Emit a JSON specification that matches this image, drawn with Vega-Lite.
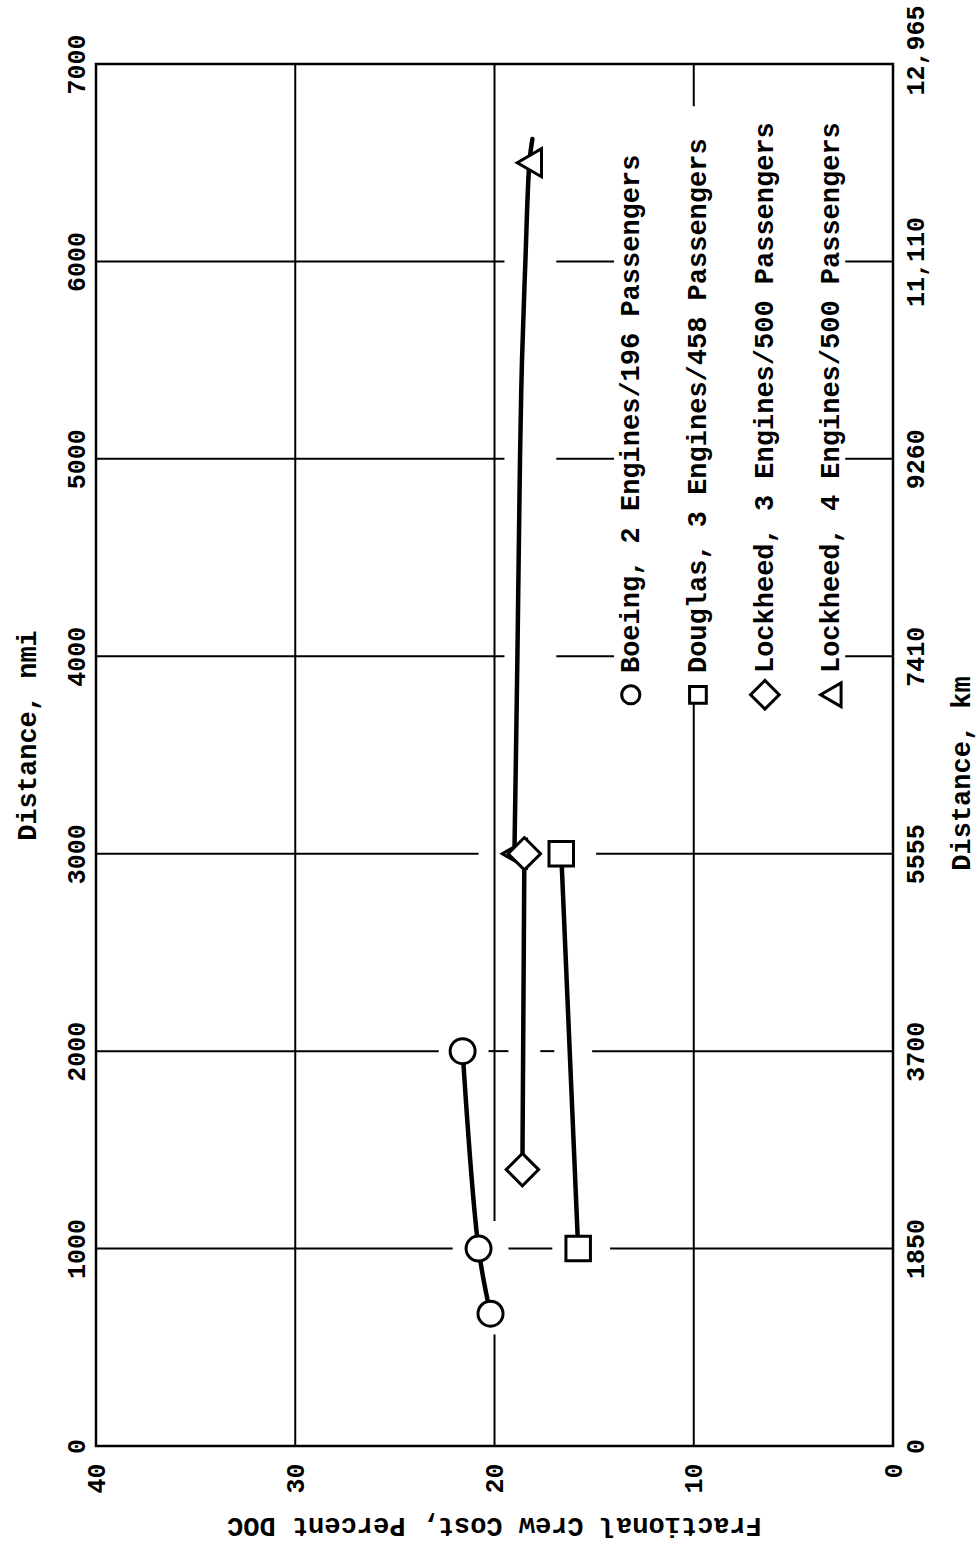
{
  "$schema": "https://vega.github.io/schema/vega-lite/v6.json",
  "width": 797,
  "height": 1382,
  "autosize": "none",
  "padding": {"left": 96, "top": 64, "right": 87, "bottom": 109},
  "background": "white",
  "config": {
    "font": "Liberation Mono",
    "view": {"stroke": "black", "strokeWidth": 2.5},
    "axis": {
      "labelFont": "Liberation Mono",
      "labelFontSize": 25,
      "labelFontWeight": "bold",
      "labelColor": "black",
      "titleFont": "Liberation Mono",
      "titleFontSize": 27,
      "titleFontWeight": "bold",
      "titleColor": "black",
      "ticks": false,
      "domain": false,
      "grid": false
    },
    "point": {"filled": false, "fill": "white", "fillOpacity": 1, "stroke": "black", "strokeWidth": 3, "opacity": 1}
  },
  "datasets": {
    "hgrid": [
      {"dist": 1000, "c1": 40, "c2": 22.1},
      {"dist": 1000, "c1": 19.3, "c2": 17.1},
      {"dist": 1000, "c1": 14.2, "c2": 0},
      {"dist": 2000, "c1": 40, "c2": 22.8},
      {"dist": 2000, "c1": 20.3, "c2": 19.3},
      {"dist": 2000, "c1": 17.7, "c2": 17.0},
      {"dist": 2000, "c1": 15.1, "c2": 0},
      {"dist": 3000, "c1": 40, "c2": 20.8},
      {"dist": 3000, "c1": 14.9, "c2": 0},
      {"dist": 4000, "c1": 40, "c2": 19.5},
      {"dist": 4000, "c1": 16.9, "c2": 14.0},
      {"dist": 4000, "c1": 2.4, "c2": 0},
      {"dist": 5000, "c1": 40, "c2": 19.5},
      {"dist": 5000, "c1": 16.9, "c2": 14.0},
      {"dist": 5000, "c1": 2.4, "c2": 0},
      {"dist": 6000, "c1": 40, "c2": 19.5},
      {"dist": 6000, "c1": 16.9, "c2": 14.0},
      {"dist": 6000, "c1": 2.4, "c2": 0}
    ],
    "vgrid": [
      {"cost": 30, "d1": 0, "d2": 7000},
      {"cost": 20, "d1": 0, "d2": 565},
      {"cost": 20, "d1": 1140, "d2": 7000},
      {"cost": 10, "d1": 0, "d2": 3770},
      {"cost": 10, "d1": 6786, "d2": 7000}
    ],
    "curves": [
      {"series": "Boeing", "k": 1, "dist": 670, "cost": 20.2},
      {"series": "Boeing", "k": 2, "dist": 1000, "cost": 20.8},
      {"series": "Boeing", "k": 3, "dist": 2000, "cost": 21.6},
      {"series": "Douglas", "k": 1, "dist": 1000, "cost": 15.8},
      {"series": "Douglas", "k": 2, "dist": 3000, "cost": 16.65},
      {"series": "Lockheed3", "k": 1, "dist": 1400, "cost": 18.6},
      {"series": "Lockheed3", "k": 2, "dist": 3000, "cost": 18.5},
      {"series": "Lockheed4", "k": 1, "dist": 3000, "cost": 19.0},
      {"series": "Lockheed4", "k": 2, "dist": 4000, "cost": 18.85},
      {"series": "Lockheed4", "k": 3, "dist": 5000, "cost": 18.72},
      {"series": "Lockheed4", "k": 4, "dist": 5500, "cost": 18.62},
      {"series": "Lockheed4", "k": 5, "dist": 6000, "cost": 18.45},
      {"series": "Lockheed4", "k": 6, "dist": 6500, "cost": 18.25},
      {"series": "Lockheed4", "k": 7, "dist": 6620, "cost": 18.1}
    ],
    "points": [
      {"series": "Boeing", "dist": 670, "cost": 20.2},
      {"series": "Boeing", "dist": 1000, "cost": 20.8},
      {"series": "Boeing", "dist": 2000, "cost": 21.6},
      {"series": "Douglas", "dist": 1000, "cost": 15.8},
      {"series": "Douglas", "dist": 3000, "cost": 16.65},
      {"series": "Lockheed4", "dist": 3000, "cost": 19.0},
      {"series": "Lockheed4", "dist": 6500, "cost": 18.25},
      {"series": "Lockheed3", "dist": 1400, "cost": 18.6},
      {"series": "Lockheed3", "dist": 3000, "cost": 18.5}
    ],
    "legend": [
      {"series": "Boeing", "cost": 13.16, "symDist": 3805, "textDist": 3915, "label": "Boeing, 2 Engines/196 Passengers"},
      {"series": "Douglas", "cost": 9.79, "symDist": 3805, "textDist": 3915, "label": "Douglas, 3 Engines/458 Passengers"},
      {"series": "Lockheed3", "cost": 6.43, "symDist": 3805, "textDist": 3915, "label": "Lockheed, 3 Engines/500 Passengers"},
      {"series": "Lockheed4", "cost": 3.12, "symDist": 3805, "textDist": 3915, "label": "Lockheed, 4 Engines/500 Passengers"}
    ]
  },
  "layer": [
    {
      "data": {"name": "hgrid"},
      "mark": {"type": "rule", "color": "black", "strokeWidth": 2},
      "encoding": {
        "y": {
          "field": "dist", "type": "quantitative",
          "scale": {"domain": [0, 7000], "nice": false, "zero": false},
          "axis": {
            "orient": "left",
            "values": [0, 1000, 2000, 3000, 4000, 5000, 6000, 7000],
            "format": "d",
            "labelAngle": 270,
            "labelAlign": "center",
            "labelBaseline": "middle",
            "labelPadding": 20,
            "title": "Distance, nmi",
            "titleAngle": 270,
            "titleAlign": "center",
            "titleBaseline": "middle",
            "titleX": -69,
            "titleY": 671
          }
        },
        "x": {
          "field": "c1", "type": "quantitative",
          "scale": {"domain": [0, 40], "reverse": true, "nice": false, "zero": false},
          "axis": {
            "orient": "bottom",
            "values": [0, 10, 20, 30, 40],
            "labelAngle": 270,
            "labelAlign": "right",
            "labelBaseline": "middle",
            "labelPadding": 17,
            "title": "Fractional Crew Cost, Percent DOC",
            "titleAngle": 180,
            "titleAlign": "center",
            "titleBaseline": "middle",
            "titleX": 398,
            "titleY": 79
          }
        },
        "x2": {"field": "c2"}
      }
    },
    {
      "data": {"name": "vgrid"},
      "mark": {"type": "rule", "color": "black", "strokeWidth": 2},
      "encoding": {
        "x": {"field": "cost", "type": "quantitative"},
        "y": {
          "field": "d1", "type": "quantitative",
          "axis": {
            "orient": "right",
            "values": [0, 1000, 2000, 3000, 4000, 5000, 6000, 7000],
            "labelExpr": "['0','1850','3700','5555','7410','9260','11,110','12,965'][round(datum.value/1000)]",
            "labelAngle": 270,
            "labelAlign": "center",
            "labelBaseline": "middle",
            "labelPadding": 22,
            "labelOffset": {"condition": {"test": "datum.value == 7000", "value": -14}, "value": 0},
            "title": "Distance, km",
            "titleAngle": 270,
            "titleAlign": "center",
            "titleBaseline": "middle",
            "titleX": 68,
            "titleY": 709
          }
        },
        "y2": {"field": "d2"}
      }
    },
    {
      "data": {"name": "curves"},
      "mark": {"type": "line", "color": "black", "strokeWidth": 4.5, "interpolate": "catmull-rom", "strokeCap": "round"},
      "encoding": {
        "x": {"field": "cost", "type": "quantitative"},
        "y": {"field": "dist", "type": "quantitative", "axis": null},
        "detail": {"field": "series"},
        "order": {"field": "k"}
      }
    },
    {
      "data": {"name": "points"},
      "transform": [{"filter": "datum.series === 'Boeing'"}],
      "mark": {"type": "point", "shape": "circle", "size": 625},
      "encoding": {
        "x": {"field": "cost", "type": "quantitative"},
        "y": {"field": "dist", "type": "quantitative", "axis": null}
      }
    },
    {
      "data": {"name": "points"},
      "transform": [{"filter": "datum.series === 'Douglas'"}],
      "mark": {"type": "point", "shape": "square", "size": 600},
      "encoding": {
        "x": {"field": "cost", "type": "quantitative"},
        "y": {"field": "dist", "type": "quantitative", "axis": null}
      }
    },
    {
      "data": {"name": "points"},
      "transform": [{"filter": "datum.series === 'Lockheed4'"}],
      "mark": {"type": "point", "shape": "triangle-left", "size": 784},
      "encoding": {
        "x": {"field": "cost", "type": "quantitative"},
        "y": {"field": "dist", "type": "quantitative", "axis": null}
      }
    },
    {
      "data": {"name": "points"},
      "transform": [{"filter": "datum.series === 'Lockheed3'"}],
      "mark": {"type": "point", "shape": "diamond", "size": 1050},
      "encoding": {
        "x": {"field": "cost", "type": "quantitative"},
        "y": {"field": "dist", "type": "quantitative", "axis": null}
      }
    },
    {
      "data": {"name": "legend"},
      "transform": [{"filter": "datum.series === 'Boeing'"}],
      "mark": {"type": "point", "shape": "circle", "size": 330},
      "encoding": {
        "x": {"field": "cost", "type": "quantitative"},
        "y": {"field": "symDist", "type": "quantitative", "axis": null}
      }
    },
    {
      "data": {"name": "legend"},
      "transform": [{"filter": "datum.series === 'Douglas'"}],
      "mark": {"type": "point", "shape": "square", "size": 280},
      "encoding": {
        "x": {"field": "cost", "type": "quantitative"},
        "y": {"field": "symDist", "type": "quantitative", "axis": null}
      }
    },
    {
      "data": {"name": "legend"},
      "transform": [{"filter": "datum.series === 'Lockheed3'"}],
      "mark": {"type": "point", "shape": "diamond", "size": 820},
      "encoding": {
        "x": {"field": "cost", "type": "quantitative"},
        "y": {"field": "symDist", "type": "quantitative", "axis": null}
      }
    },
    {
      "data": {"name": "legend"},
      "transform": [{"filter": "datum.series === 'Lockheed4'"}],
      "mark": {"type": "point", "shape": "triangle-left", "size": 560},
      "encoding": {
        "x": {"field": "cost", "type": "quantitative"},
        "y": {"field": "symDist", "type": "quantitative", "axis": null}
      }
    },
    {
      "data": {"name": "legend"},
      "mark": {"type": "text", "angle": 270, "align": "left", "baseline": "middle", "font": "Liberation Mono", "fontSize": 27, "fontWeight": "bold", "color": "black"},
      "encoding": {
        "x": {"field": "cost", "type": "quantitative"},
        "y": {"field": "textDist", "type": "quantitative", "axis": null},
        "text": {"field": "label"}
      }
    }
  ],
  "resolve": {"axis": {"y": "independent"}}
}
